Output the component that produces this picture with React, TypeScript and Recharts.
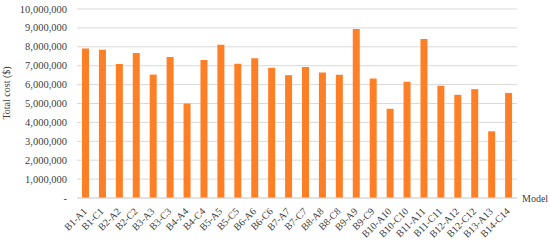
import React from "react";
import { BarChart, Bar, XAxis, YAxis, CartesianGrid } from "recharts";

const models = [
  "B1-A1", "B1-C1", "B2-A2", "B2-C2", "B3-A3", "B3-C3", "B4-A4", "B4-C4",
  "B5-A5", "B5-C5", "B6-A6", "B6-C6", "B7-A7", "B7-C7", "B8-A8", "B8-C8",
  "B9-A9", "B9-C9", "B10-A10", "B10-C10", "B11-A11", "B11-C11", "B12-A12",
  "B12-C12", "B13-A13", "B14-C14",
];

const totalCost = [
  7910000, 7840000, 7090000, 7670000, 6530000, 7460000, 5000000, 7300000,
  8110000, 7100000, 7400000, 6890000, 6500000, 6930000, 6640000, 6520000,
  8940000, 6320000, 4720000, 6150000, 8410000, 5940000, 5460000,
  5760000, 3530000, 5560000,
];

const yTicks = [0, 1000000, 2000000, 3000000, 4000000, 5000000, 6000000, 7000000, 8000000, 9000000, 10000000];

const data = models.map((m, i) => ({ model: m, cost: totalCost[i] }));

const FONT = '"Liberation Serif", "Times New Roman", serif';

const fmt = (v: number) => (v === 0 ? "-" : v.toLocaleString("en-US"));

const XTick = (props: any) => {
  const { x, y, payload } = props;
  return (
    <text
      x={x + 2}
      y={y + 6}
      transform={`rotate(-45, ${x + 2}, ${y + 6})`}
      textAnchor="end"
      fontFamily={FONT}
      fontSize={10}
      fill="#404040"
    >
      {payload.value}
    </text>
  );
};

const YTick = (props: any) => {
  const { x, y, payload } = props;
  return (
    <text x={x - 2} y={y} dy={3.5} textAnchor="end" fontFamily={FONT} fontSize={10.5} fill="#404040">
      {fmt(payload.value)}
    </text>
  );
};

export default function App() {
  return (
    <div style={{ position: "absolute", left: 0, top: 0, width: 550, height: 241, background: "#fff" }}>
      <BarChart
        width={550}
        height={241}
        data={data}
        margin={{ top: 9, right: 33, left: 0, bottom: 0 }}
        barSize={7}
      >
        <CartesianGrid vertical={false} stroke="#d9d9d9" strokeWidth={1} />
        <XAxis
          dataKey="model"
          height={43}
          interval={0}
          tickLine={false}
          axisLine={{ stroke: "#d9d9d9" }}
          tick={<XTick />}
        />
        <YAxis
          width={77}
          domain={[0, 10000000]}
          ticks={yTicks}
          interval={0}
          axisLine={false}
          tickLine={false}
          tick={<YTick />}
        />
        <Bar dataKey="cost" fill="#FF7F27" isAnimationActive={false} />
        <text
          x={10}
          y={93}
          transform="rotate(-90, 10, 93)"
          textAnchor="middle"
          fontFamily={FONT}
          fontSize={10}
          fill="#404040"
        >
          Total cost ($)
        </text>
        <text x={522} y={202} fontFamily={FONT} fontSize={10} fill="#404040">
          Model
        </text>
      </BarChart>
    </div>
  );
}
